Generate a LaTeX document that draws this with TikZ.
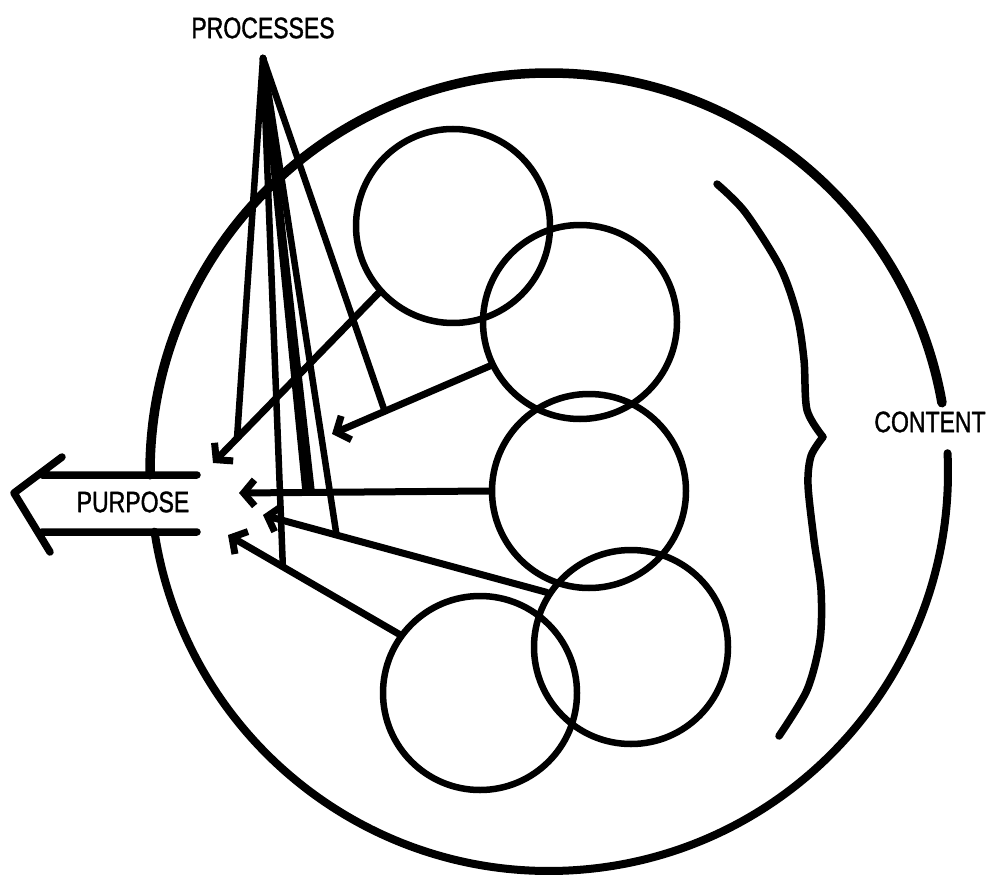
\documentclass[tikz,border=0pt]{standalone}
\usepackage{fontspec}
\setmainfont[FakeStretch=0.78,FakeBold=1.2]{Liberation Sans}
\usetikzlibrary{arrows.meta}
\begin{document}
\begin{tikzpicture}[x=1pt,y=-1pt,line cap=round,line join=round,>={Straight Barb[length=11pt,width=26pt]},
  blob/.style={circle,draw,line width=6.5pt,minimum size=194pt,inner sep=0pt},
  lab/.style={inner sep=0pt,font=\fontsize{29.5}{29.5}\selectfont},
  ln/.style={line width=7pt}]
\useasboundingbox (0,0) rectangle (990,877);
% outer circle, open at purpose and content
\draw[line width=9.5pt] (549,472) ++(179.6:399) arc[start angle=179.6,end angle=350,radius=399];
\draw[line width=8pt] (549,472) ++(-2.7:399) arc[start angle=-2.7,end angle=171.4,radius=399];
\node[lab] (procs) at (263,28) {PROCESSES};\node[lab] (purp) at (133,502) {PURPOSE};\node[lab] (cont) at (930,422) {CONTENT};
\coordinate (apx) at (263,58);
% content circles
\node[blob] (c1) at (453,226) {};\node[blob] (c2) at (580,322) {};\node[blob] (c3) at (589,491) {};
\node[blob] (c4) at (631,647) {};\node[blob] (c5) at (480,693) {};
% arrows towards purpose
\coordinate (t1) at (213,463);\coordinate (t2) at (332,434);\coordinate (t3) at (239,493);\coordinate (t4) at (263,515);\coordinate (t5) at (228,535);
\draw[ln,->] (c1.222) -- (t1) coordinate[pos=.855] (p1);
\draw[ln,->] (c2.206) -- (t2) coordinate[pos=.666] (p2);
\draw[ln,->] (c3.west) -- (t3) coordinate[pos=.733] (p3) coordinate[pos=.709] (p3b);
\draw[ln,->] (c4.147) -- (t4) coordinate[pos=.741] (p4);
\draw[ln,->] (c5.144) -- (t5) coordinate[pos=.679] (p5);
\foreach \p in {p1,p2,p3,p3b,p4,p5} \draw[line width=6.5pt] (apx) -- (\p);
% purpose arrow
\draw[line width=7.5pt] (197,475) -- (42,475) (62,457) -- (14,493) -- (50,552) (42,532) -- (197,532);
% brace
\draw[line width=7.5pt] plot[smooth] coordinates{(717,184)(745,212)(780,267)(797,315)(804,360)(807,410)(823,437)}
  -- plot[smooth] coordinates{(823,437)(811,456)(808,485)(814,540)(821,590)(820,640)(807,690)(779,736)};
\end{tikzpicture}
\end{document}
